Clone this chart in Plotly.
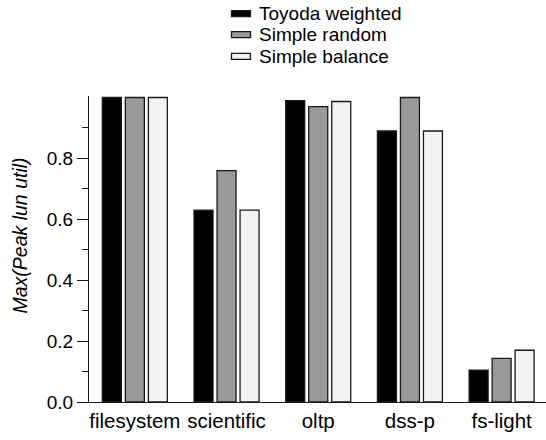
import plotly.graph_objects as go

# Workload categories and per-policy results
categories = ["filesystem", "scientific", "oltp", "dss-p", "fs-light"]
toyoda_weighted = [1.0, 0.63, 0.99, 0.89, 0.105]
simple_random = [1.0, 0.76, 0.97, 1.0, 0.143]
simple_balance = [1.0, 0.63, 0.987, 0.89, 0.17]

series_names = ["Toyoda weighted", "Simple random", "Simple balance"]
series_values = [toyoda_weighted, simple_random, simple_balance]
series_colors = ["#000000", "#999999", "#f2f2f2"]

W, H = 546, 440
M_L, M_R, M_T, M_B = 89, 0, 96, 38
PW, PH = W - M_L - M_R, H - M_T - M_B
FONT = "Liberation Sans, Arial, sans-serif"


def px_x(px):
    return (px - M_L) / PW


def px_y(py):
    return (H - M_B - py) / PH


fig = go.Figure()
for name, vals, color in zip(series_names, series_values, series_colors):
    fig.add_trace(go.Bar(
        x=categories, y=vals, name=name,
        marker=dict(color=color, line=dict(color="#1a1a1a", width=1.3)),
        showlegend=False,
    ))

# Hand-drawn legend: flat swatches with labels
row_centers = [13.7, 34.7, 56.3]
shapes = []
annotations = []
for name, color, cy in zip(series_names, series_colors, row_centers):
    shapes.append(dict(
        type="rect", xref="paper", yref="paper",
        x0=px_x(231.5), x1=px_x(250.5), y0=px_y(cy + 3), y1=px_y(cy - 3),
        fillcolor=color, line=dict(color="#1a1a1a", width=1.3),
    ))
    annotations.append(dict(
        text=name, xref="paper", yref="paper", x=px_x(257), y=px_y(cy),
        xanchor="left", yanchor="middle", showarrow=False,
        font=dict(family=FONT, size=19, color="#000000"),
    ))

annotations.append(dict(
    text="<i>Max(Peak lun util)</i>", xref="paper", yref="paper",
    x=px_x(19), y=px_y(235.5), textangle=-90,
    xanchor="center", yanchor="middle", showarrow=False,
    font=dict(family=FONT, size=19.5, color="#000000"),
))

fig.update_layout(
    width=W, height=H,
    margin=dict(l=M_L, r=M_R, t=M_T, b=M_B, pad=0),
    paper_bgcolor="white", plot_bgcolor="white",
    barmode="group", bargap=0.247, bargroupgap=0.175,
    shapes=shapes, annotations=annotations,
    font=dict(family=FONT, color="#000000"),
    xaxis=dict(
        range=[-0.5, 4.484], showgrid=False, zeroline=False,
        showline=True, linecolor="#1a1a1a", linewidth=1.3,
        ticks="", tickfont=dict(family=FONT, size=20.5, color="#000000"),
    ),
    yaxis=dict(
        range=[0, 1.005], showgrid=False, zeroline=False,
        showline=True, linecolor="#1a1a1a", linewidth=1.3,
        tickmode="array", tickvals=[0, 0.2, 0.4, 0.6, 0.8],
        ticktext=["0.0", "0.2", "0.4", "0.6", "0.8"],
        ticks="outside", ticklen=11, tickwidth=1.2, tickcolor="#1a1a1a",
        minor=dict(tickmode="array", tickvals=[0.1, 0.3, 0.5, 0.7, 0.9],
                   ticks="outside", ticklen=6, tickwidth=1.2, tickcolor="#1a1a1a"),
        tickfont=dict(family=FONT, size=19, color="#000000"),
    ),
)

fig.write_html("out.html")
